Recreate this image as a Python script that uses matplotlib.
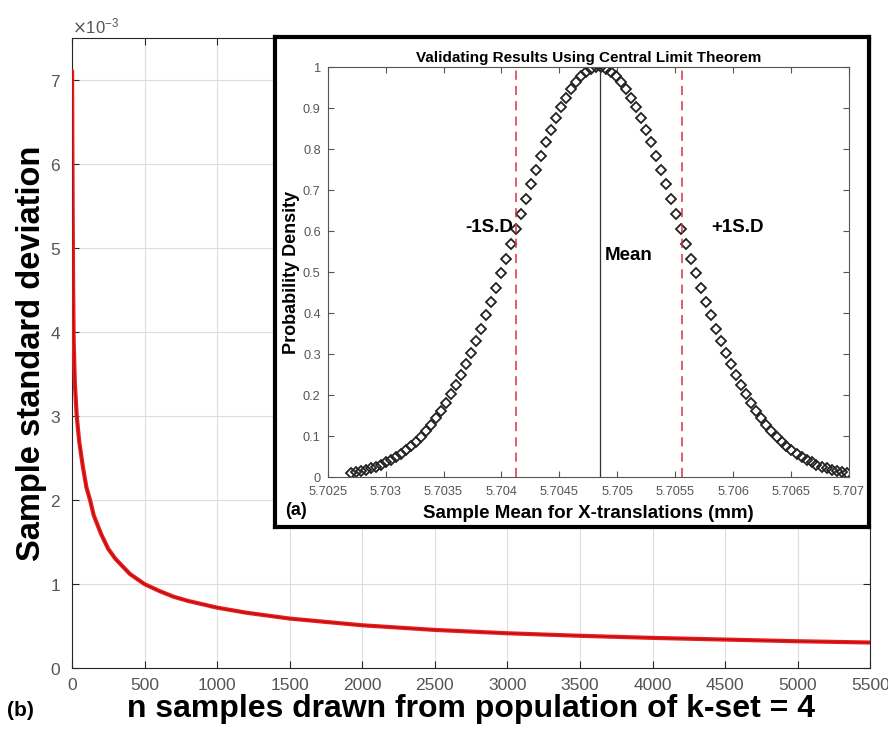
import matplotlib
matplotlib.use('Agg')
import matplotlib.pyplot as plt
import numpy as np

plt.rcParams['font.family'] = ['Liberation Sans', 'DejaVu Sans']

# main curve: sample std vs n
n_samples = [1, 3, 5, 8, 12, 20, 33, 50, 75, 100, 125, 150, 200, 250, 300, 400,
             500, 600, 700, 800, 1000, 1200, 1500, 2000, 2500, 3000, 3500, 4000,
             4500, 5000, 5500]
sample_std = [7.1, 6.2, 5.5, 4.6, 3.9, 3.4, 3.0, 2.7, 2.4, 2.15, 2.0, 1.82, 1.6,
              1.42, 1.3, 1.12, 1.0, 0.92, 0.85, 0.80, 0.72, 0.66, 0.59, 0.51,
              0.455, 0.415, 0.385, 0.36, 0.34, 0.32, 0.305]
sample_std = [v * 1e-3 for v in sample_std]

# inset: sample mean distribution
sample_mean = [5.702700, 5.702743, 5.702786, 5.702830, 5.702873, 5.702916, 5.702959,
               5.703003, 5.703046, 5.703089, 5.703132, 5.703176, 5.703219, 5.703262,
               5.703305, 5.703348, 5.703392, 5.703435, 5.703478, 5.703521, 5.703565,
               5.703608, 5.703651, 5.703694, 5.703738, 5.703781, 5.703824, 5.703867,
               5.703910, 5.703954, 5.703997, 5.704040, 5.704083, 5.704127, 5.704170,
               5.704213, 5.704256, 5.704300, 5.704343, 5.704386, 5.704429, 5.704472,
               5.704516, 5.704559, 5.704602, 5.704645, 5.704689, 5.704732, 5.704775,
               5.704818, 5.704862, 5.704905, 5.704948, 5.704991, 5.705034, 5.705078,
               5.705121, 5.705164, 5.705207, 5.705251, 5.705294, 5.705337, 5.705380,
               5.705424, 5.705467, 5.705510, 5.705553, 5.705596, 5.705640, 5.705683,
               5.705726, 5.705769, 5.705813, 5.705856, 5.705899, 5.705942, 5.705986,
               5.706029, 5.706072, 5.706115, 5.706158, 5.706202, 5.706245, 5.706288,
               5.706331, 5.706375, 5.706418, 5.706461, 5.706504, 5.706548, 5.706591,
               5.706634, 5.706677, 5.706720, 5.706764, 5.706807, 5.706850, 5.706893,
               5.706937, 5.706980]
left_half = [0.0111, 0.0133, 0.0159, 0.0189, 0.0223, 0.0263, 0.0310, 0.0363, 0.0423,
             0.0492, 0.0570, 0.0657, 0.0756, 0.0866, 0.0988, 0.1124, 0.1273, 0.1437,
             0.1617, 0.1812, 0.2022, 0.2250, 0.2494, 0.2753, 0.3030, 0.3321, 0.3627,
             0.3947, 0.4279, 0.4621, 0.4975, 0.5334, 0.5698, 0.6065, 0.6433, 0.6797,
             0.7155, 0.7505, 0.7843, 0.8167, 0.8472, 0.8757, 0.9019, 0.9253, 0.9460,
             0.9635, 0.9777, 0.9886, 0.9959, 0.9995]
prob_density = left_half + left_half[::-1]
mean_x = 5.70485
minus_sd = 5.70413
plus_sd = 5.70556

fig = plt.figure(figsize=(8.88, 7.31), dpi=100)

# ---- main axes
ax = fig.add_axes([0.081, 0.086, 0.899, 0.862])
ax.plot(n_samples, sample_std, color='#ee1c1c', lw=3.0, zorder=3)
ax.plot(n_samples, sample_std, color='#7a0a0a', lw=0.8, alpha=0.6, zorder=4)
ax.set_xlim(0, 5500)
ax.set_ylim(0, 7.5e-3)
ax.set_xticks(np.arange(0, 5501, 500))
ax.set_yticks(np.arange(0, 7.01e-3, 1e-3))
ax.ticklabel_format(axis='y', style='sci', scilimits=(-3, -3), useMathText=True)
ax.yaxis.get_offset_text().set_fontsize(12)
ax.yaxis.get_offset_text().set_color('#666666')
ax.grid(True, color='#dddddd', lw=0.8)
ax.set_axisbelow(True)
ax.tick_params(direction='in', top=True, right=True, labelsize=12.5,
               labelcolor='#555555', length=5, color='#262626')
ax.tick_params(axis='x', pad=7)
ax.tick_params(axis='y', pad=8)
for s in ax.spines.values():
    s.set_color('#262626')
ax.set_xlabel('n samples drawn from population of k-set = 4', fontsize=23,
              fontweight='bold', labelpad=1)
ax.set_ylabel('Sample standard deviation', fontsize=23.5, fontweight='bold', labelpad=2)
fig.text(0.008, 0.02, '(b)', fontsize=15, fontweight='bold')

# ---- inset frame
frame = fig.add_axes([0.310, 0.279, 0.669, 0.670])
frame.set_xticks([])
frame.set_yticks([])
frame.set_facecolor('white')
for s in frame.spines.values():
    s.set_linewidth(3)
    s.set_color('black')

# ---- inset axes
ins = fig.add_axes([0.369, 0.347, 0.587, 0.561])
ins.plot(sample_mean, prob_density, linestyle='none', marker='D', markersize=5.5,
         markerfacecolor='none', markeredgecolor='#222222', markeredgewidth=1.3)
ins.axvline(mean_x, color='#333333', lw=0.9)
ins.axvline(minus_sd, color='#d9304a', lw=1.1, ls=(0, (6, 4)))
ins.axvline(plus_sd, color='#d9304a', lw=1.1, ls=(0, (6, 4)))
ins.set_xlim(5.7025, 5.707)
ins.set_ylim(0, 1)
ins.set_xticks([5.7025, 5.703, 5.7035, 5.704, 5.7045, 5.705, 5.7055, 5.706, 5.7065, 5.707])
ins.set_xticklabels(['5.7025', '5.703', '5.7035', '5.704', '5.7045', '5.705', '5.7055',
                     '5.706', '5.7065', '5.707'])
ins.set_yticks(np.arange(0, 1.01, 0.1))
ins.set_yticklabels(['0', '0.1', '0.2', '0.3', '0.4', '0.5', '0.6', '0.7', '0.8', '0.9', '1'])
ins.tick_params(direction='in', top=True, right=True, labelsize=9.2,
                labelcolor='#555555', length=4, color='#555555')
ins.tick_params(axis='x', pad=6)
ins.tick_params(axis='y', pad=5)
for s in ins.spines.values():
    s.set_color('#555555')
    s.set_linewidth(0.8)
ins.set_title('Validating Results Using Central Limit Theorem', fontsize=11,
              fontweight='bold', pad=4)
ins.set_xlabel('Sample Mean for X-translations (mm)', fontsize=13.5, fontweight='bold',
               labelpad=5)
ins.set_ylabel('Probability Density', fontsize=13, fontweight='bold', labelpad=2)
ins.text(5.70410, 0.61, '-1S.D', fontsize=13.5, fontweight='bold', ha='right', va='center')
ins.text(5.70581, 0.61, '+1S.D', fontsize=13.5, fontweight='bold', ha='left', va='center')
ins.text(5.70489, 0.54, 'Mean', fontsize=13.5, fontweight='bold', ha='left', va='center')
fig.text(0.321, 0.296, '(a)', fontsize=13, fontweight='bold')

fig.savefig('out.png', dpi=100)
